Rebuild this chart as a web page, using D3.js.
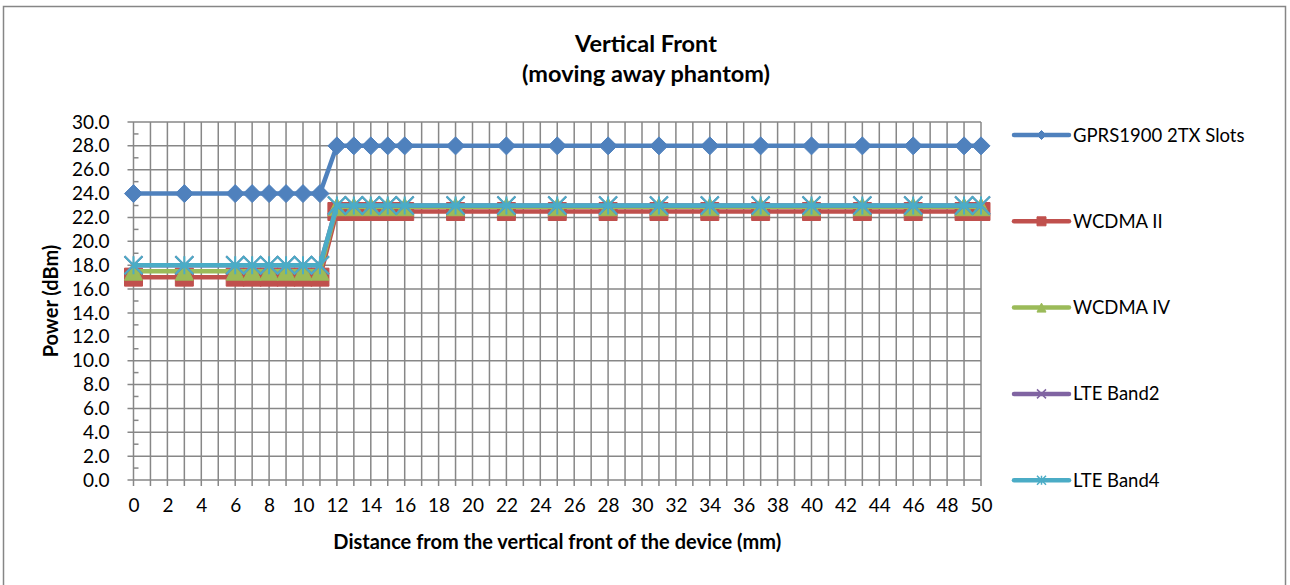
<!DOCTYPE html>
<html>
<head>
<meta charset="utf-8">
<script src="https://cdn.jsdelivr.net/npm/d3@7"></script>
<style>
  body { margin: 0; background: #fff; }
  text { font-family: Lato, "Noto Sans", sans-serif; fill: #000; }
  .title { font-size: 23.5px; font-weight: bold; }
  .axis-label { font-size: 20px; font-weight: bold; }
  .legend-label { font-size: 18.5px; }
</style>
</head>
<body>
<div id="chart"></div>
<script>
// distances (mm) measured
const distances = [0, 3, 6, 7, 8, 9, 10, 11, 12, 13, 14, 15, 16, 19, 22, 25, 28, 31, 34, 37, 40, 43, 46, 49, 50];

// power per band (dBm)
const gprs1900 = [24, 24, 24, 24, 24, 24, 24, 24, 28, 28, 28, 28, 28, 28, 28, 28, 28, 28, 28, 28, 28, 28, 28, 28, 28];
const wcdma2 = [17.0, 17.0, 17.0, 17.0, 17.0, 17.0, 17.0, 17.0, 22.5, 22.5, 22.5, 22.5, 22.5, 22.5, 22.5, 22.5, 22.5, 22.5, 22.5, 22.5, 22.5, 22.5, 22.5, 22.5, 22.5];
const wcdma4 = [17.5, 17.5, 17.5, 17.5, 17.5, 17.5, 17.5, 17.5, 22.9, 22.9, 22.9, 22.9, 22.9, 22.9, 22.9, 22.9, 22.9, 22.9, 22.9, 22.9, 22.9, 22.9, 22.9, 22.9, 22.9];
const lteBand2 = [18.0, 18.0, 18.0, 18.0, 18.0, 18.0, 18.0, 18.0, 23.0, 23.0, 23.0, 23.0, 23.0, 23.0, 23.0, 23.0, 23.0, 23.0, 23.0, 23.0, 23.0, 23.0, 23.0, 23.0, 23.0];
const lteBand4 = [18.0, 18.0, 18.0, 18.0, 18.0, 18.0, 18.0, 18.0, 23.0, 23.0, 23.0, 23.0, 23.0, 23.0, 23.0, 23.0, 23.0, 23.0, 23.0, 23.0, 23.0, 23.0, 23.0, 23.0, 23.0];

const seriesNames = ["GPRS1900 2TX Slots", "WCDMA II", "WCDMA IV", "LTE Band2", "LTE Band4"];
const seriesValues = [gprs1900, wcdma2, wcdma4, lteBand2, lteBand4];
const seriesColors = ["#4F81BD", "#C0504D", "#9BBB59", "#8064A2", "#4BACC6"];
const seriesMarkers = ["diamond", "square", "triangle", "x", "star"];

const yTicks = d3.range(0, 30.1, 2);
const xTicks = d3.range(0, 50.1, 2);

const width = 1290, height = 585;
const margin = { top: 122, right: 309, bottom: 105, left: 133.5 };
const innerWidth = width - margin.left - margin.right;
const innerHeight = height - margin.top - margin.bottom;

const svg = d3.select("#chart")
    .append("svg")
    .attr("width", width)
    .attr("height", height);

// chart frame (bottom edge runs past the picture)
svg.append("path")
    .attr("d", "M3.5,585V6.5H1285.5V585")
    .attr("fill", "none")
    .attr("stroke", "#868686")
    .attr("stroke-width", 1.5);

const inner = svg.append("g")
    .attr("transform", `translate(${margin.left}, ${margin.top})`);

const xScale = d3.scaleLinear().domain([0, 50]).range([0, innerWidth]);
const yScale = d3.scaleLinear().domain([0, 30]).range([innerHeight, 0]);

// gridlines
const gridColor = "#878787";
inner.append("g").selectAll("line")
    .data(d3.range(0, 51, 1))
    .join("line")
    .attr("x1", d => xScale(d)).attr("x2", d => xScale(d))
    .attr("y1", 0).attr("y2", innerHeight + 6)
    .attr("stroke", gridColor).attr("stroke-width", 1.5);

inner.append("g").selectAll("line")
    .data(yTicks)
    .join("line")
    .attr("x1", -6).attr("x2", innerWidth)
    .attr("y1", d => yScale(d)).attr("y2", d => yScale(d))
    .attr("stroke", gridColor).attr("stroke-width", 1.5);

// minor ticks on the y axis
inner.append("g").selectAll("line")
    .data(d3.range(1, 30, 2))
    .join("line")
    .attr("x1", 0).attr("x2", 5)
    .attr("y1", d => yScale(d)).attr("y2", d => yScale(d))
    .attr("stroke", gridColor).attr("stroke-width", 1.5);

// axes (labels only, lines come from the grid)
const leftAxis = d3.axisLeft(yScale)
    .tickValues(yTicks)
    .tickFormat(d3.format(".1f"))
    .tickSize(0)
    .tickPadding(24);
inner.append("g").call(leftAxis)
    .attr("font-size", 19)
    .attr("font-family", "Lato, 'Noto Sans', sans-serif")
    .call(g => g.select(".domain").remove());

const bottomAxis = d3.axisBottom(xScale)
    .tickValues(xTicks)
    .tickSize(0)
    .tickPadding(19);
inner.append("g")
    .attr("transform", `translate(0, ${innerHeight})`)
    .call(bottomAxis)
    .attr("font-size", 19)
    .attr("font-family", "Lato, 'Noto Sans', sans-serif")
    .call(g => g.select(".domain").remove());

// marker shapes
const markerPath = (type, s) => {
    const h = s / 2;
    switch (type) {
        case "diamond": return `M0,${-h}L${h},0L0,${h}L${-h},0Z`;
        case "square": return `M${-h},${-h}H${h}V${h}H${-h}Z`;
        case "triangle": return `M0,${-h}L${h},${h}H${-h}Z`;
        case "x": return `M${-h},${-h}L${h},${h}M${-h},${h}L${h},${-h}`;
        case "star": return `M${-h},${-h}L${h},${h}M${-h},${h}L${h},${-h}M0,${-h}V${h}`;
    }
};
const isOpen = t => t === "x" || t === "star";

const line = d3.line()
    .x(d => xScale(d[0]))
    .y(d => yScale(d[1]));

seriesValues.forEach((vals, i) => {
    const pts = distances.map((d, j) => [d, vals[j]]);
    const g = inner.append("g");
    g.append("path")
        .datum(pts)
        .attr("d", line)
        .attr("fill", "none")
        .attr("stroke", seriesColors[i])
        .attr("stroke-width", 4.5)
        .attr("stroke-linejoin", "round");
    g.selectAll("path.marker")
        .data(pts)
        .join("path")
        .attr("class", "marker")
        .attr("transform", d => `translate(${xScale(d[0])}, ${yScale(d[1])})`)
        .attr("d", markerPath(seriesMarkers[i], 18))
        .attr("fill", isOpen(seriesMarkers[i]) ? "none" : seriesColors[i])
        .attr("stroke", seriesColors[i])
        .attr("stroke-width", isOpen(seriesMarkers[i]) ? 2 : 1);
});

// titles
svg.append("text")
    .attr("class", "title")
    .attr("x", 646).attr("y", 52)
    .attr("text-anchor", "middle")
    .text("Vertical Front");
svg.append("text")
    .attr("class", "title")
    .attr("x", 646).attr("y", 82)
    .attr("text-anchor", "middle")
    .text("(moving away phantom)");

svg.append("text")
    .attr("class", "axis-label")
    .attr("x", margin.left + innerWidth / 2)
    .attr("y", 549)
    .attr("text-anchor", "middle")
    .text("Distance from the vertical front of the device (mm)");

svg.append("text")
    .attr("class", "axis-label")
    .attr("transform", `translate(58, ${margin.top + innerHeight / 2}) rotate(-90)`)
    .attr("text-anchor", "middle")
    .text("Power (dBm)");

// legend
const legend = svg.append("g")
    .attr("transform", "translate(1014, 135)");
seriesNames.forEach((name, i) => {
    const g = legend.append("g").attr("transform", `translate(0, ${i * 86.3})`);
    g.append("line")
        .attr("x1", 0).attr("x2", 55)
        .attr("stroke", seriesColors[i])
        .attr("stroke-width", 4.5)
        .attr("stroke-linecap", "round");
    g.append("path")
        .attr("transform", "translate(27.5, 0)")
        .attr("d", markerPath(seriesMarkers[i], 9))
        .attr("fill", isOpen(seriesMarkers[i]) ? "none" : seriesColors[i])
        .attr("stroke", seriesColors[i])
        .attr("stroke-width", isOpen(seriesMarkers[i]) ? 1.5 : 1);
    g.append("text")
        .attr("class", "legend-label")
        .attr("x", 59)
        .attr("y", 6.5)
        .text(name);
});
</script>
</body>
</html>
